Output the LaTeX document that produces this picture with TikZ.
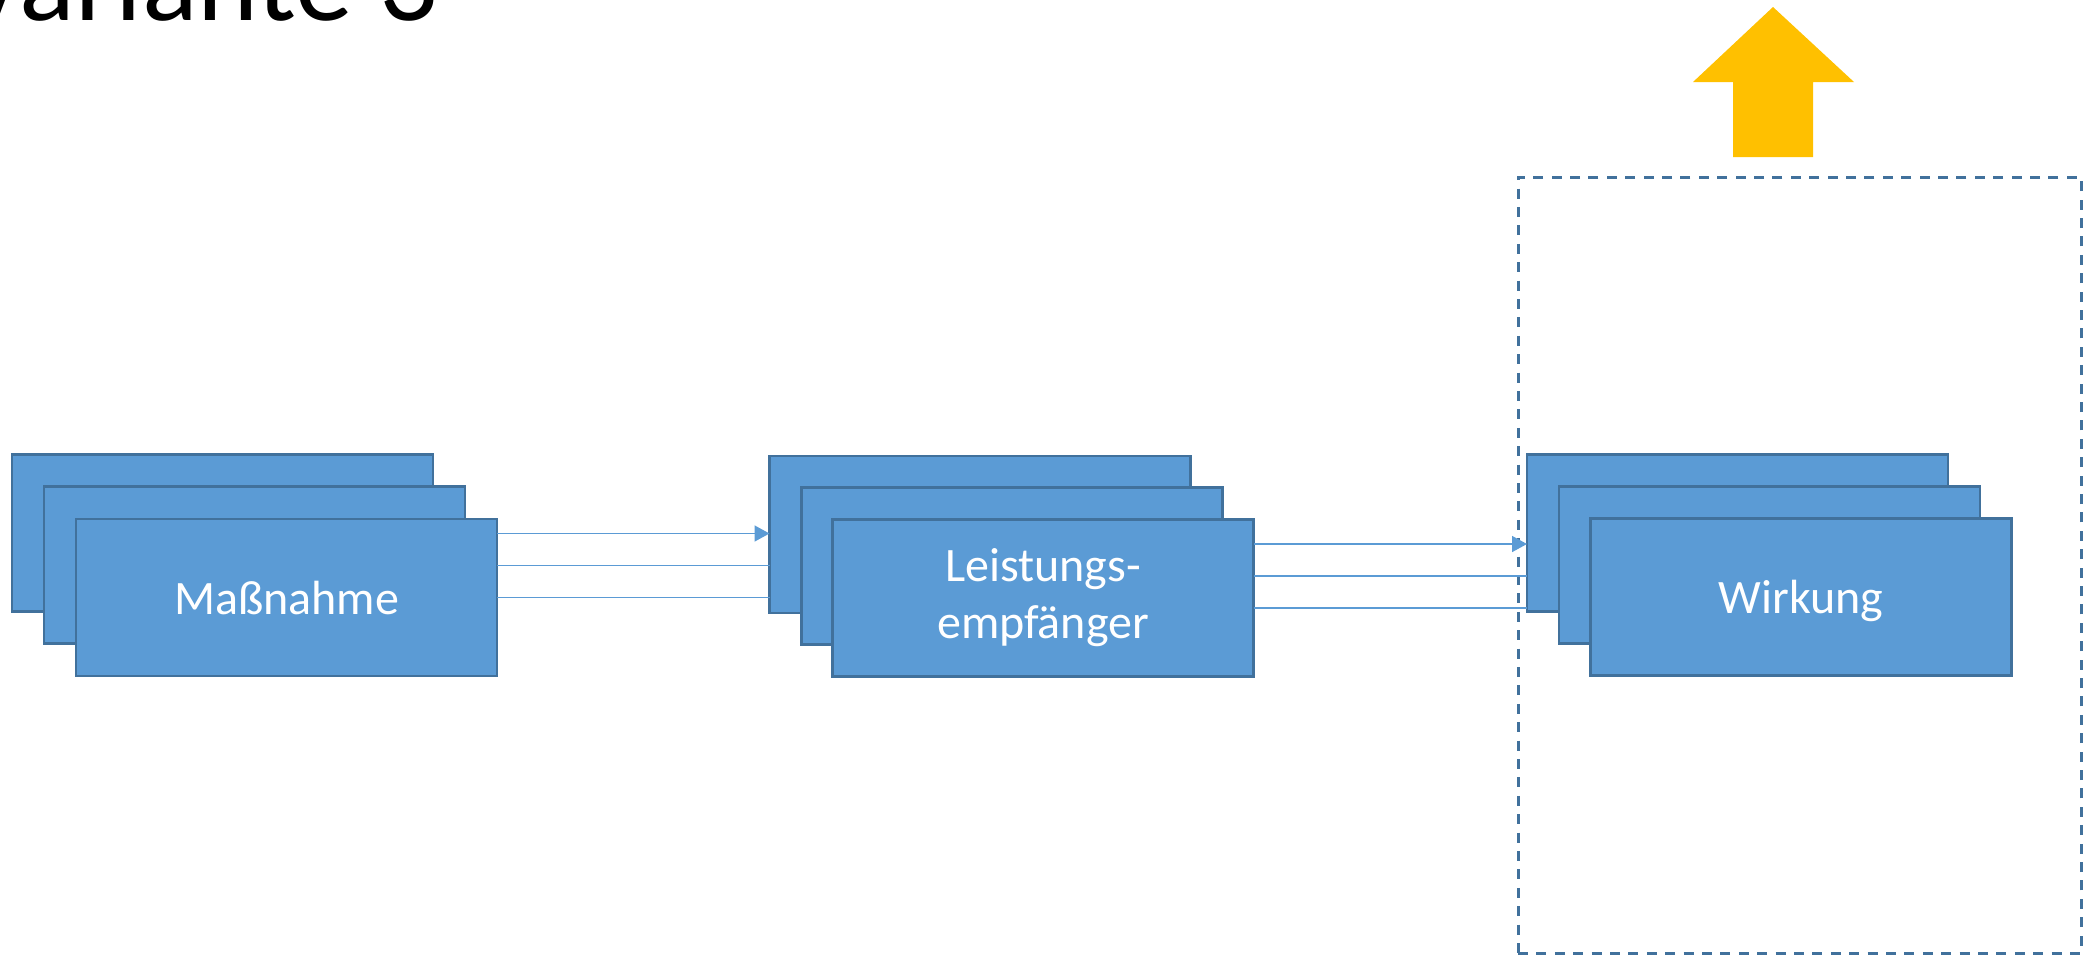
\documentclass[tikz,border=0pt]{standalone}
\usepackage{fontspec}
\setmainfont{Carlito}
\usetikzlibrary{arrows.meta,calc}
\definecolor{boxfill}{HTML}{5B9BD5}
\definecolor{boxline}{HTML}{41719C}
\definecolor{conncol}{HTML}{5B9BD5}
\definecolor{arrowyellow}{HTML}{FFC000}
\tikzset{
  card/.style={draw=boxline, line width=1.4pt, fill=boxfill, rectangle,
    minimum width=210.5pt, minimum height=78.5pt, inner sep=0pt, outer sep=0pt,
    text=white, font=\fontsize{24}{28.5}\selectfont, align=center},
  conn/.style={draw=conncol, line width=0.75pt},
  connarrow/.style={conn, -{Triangle[length=7.5pt,width=8pt]}},
  frame/.style={draw=boxline, line width=1.5pt, dash pattern=on 5pt off 4.2pt,
    rectangle, inner sep=0pt, outer sep=0pt},
}
\begin{document}
\begin{tikzpicture}[x=0.5pt,y=-0.5pt]
\useasboundingbox (0,0) rectangle (2084,955);
% title
\node[anchor=base west, inner sep=0pt, font=\fontsize{58}{62}\selectfont] (title) at (-40,20) {Variante 3};
% yellow arrow
\fill[arrowyellow] (1773,7) -- (1854,82) -- (1813,82) -- (1813,157) -- (1733,157) -- (1733,82) -- (1693,82) -- cycle;
% dashed frame
\node[frame, minimum width=281.5pt, minimum height=388pt] (frame) at (1799.5,565) {};
% group 1
\node[card] (b1) at (222.5,533) {};
\node[card] (m1) at (254.5,565) {};
\node[card] (f1) at (286.5,597.5) {Maßnahme};
% group 2
\node[card] (b2) at (980,534.5) {};
\node[card] (m2) at (1012,566) {};
\node[card] (f2) at (1043,598) {Leistungs-\\empfänger};
% group 3
\node[card] (b3) at (1737.5,533) {};
\node[card] (m3) at (1769.5,565) {};
\node[card, text depth=0pt] (f3) at (1801,597) {Wirkung};
% connectors group 1 -> 2
\draw[connarrow] ([yshift=32pt]f1.east) -- ([yshift=32pt]f1.east -| b2.west);
\draw[conn] ([yshift=16pt]f1.east) -- ([yshift=16pt]f1.east -| b2.west);
\draw[conn] (f1.east) -- (f1.east -| b2.west);
% connectors group 2 -> 3
\draw[connarrow] ([yshift=27pt]f2.east) -- ([yshift=27pt]f2.east -| b3.west);
\draw[conn] ([yshift=11pt]f2.east) -- ([yshift=11pt]f2.east -| b3.west);
\draw[conn] ([yshift=-5pt]f2.east) -- ([yshift=-5pt]f2.east -| b3.west);
\end{tikzpicture}
\end{document}
